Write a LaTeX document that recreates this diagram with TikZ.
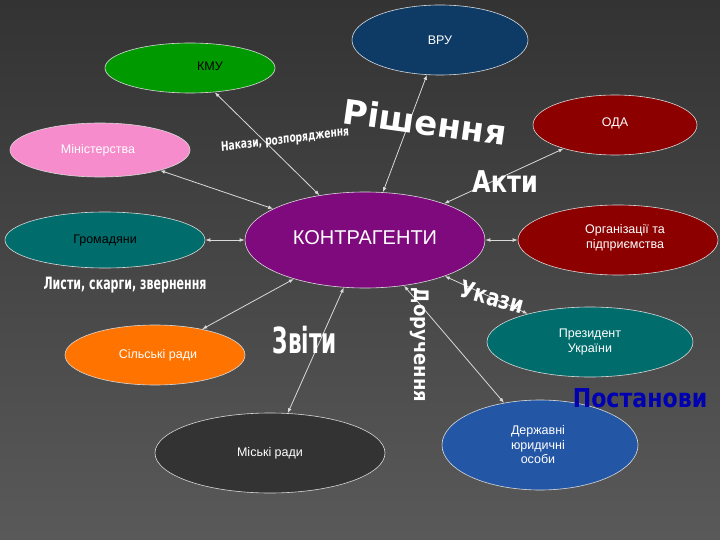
\documentclass[tikz,border=0pt]{standalone}
\usepackage{fontspec}
\setmainfont{Liberation Sans}
\newfontfamily\wa{DejaVu Sans}
\usetikzlibrary{shapes.geometric,arrows.meta}
\definecolor{navy}{HTML}{0E3A66}
\definecolor{djblue}{HTML}{2456A6}
\definecolor{kpurple}{HTML}{7E0A7E}
\begin{document}
\begin{tikzpicture}[x=1pt,y=-1pt,
 el/.style={ellipse,draw=white!85!black,line width=0.6pt,inner sep=0pt},
 lab/.style={font=\fontsize{12.5}{14.5}\selectfont,align=center},
 con/.style={{Latex[length=5pt]}-{Latex[length=5pt]},draw=white!85!black,line width=0.8pt},
 art/.style={font=\wa\bfseries,text=white,inner sep=0pt}]
\useasboundingbox (0,0) rectangle (720,540);
\shade[top color=black!80,bottom color=black!65] (0,0) rectangle (720,540);
\node[el,fill=navy,minimum width=176,minimum height=70] (vru) at (440,40) {};
\node[lab,text=white] at (440,40) {ВРУ};
\node[el,fill=green!60!black,minimum width=170,minimum height=50] (kmu) at (190,68) {};
\node[lab] at (210,66) {КМУ};
\node[el,fill=magenta!45!white,minimum width=180,minimum height=54] (min) at (100,150) {};
\node[lab,text=white] at (98,150) {Міністерства};
\node[el,fill=red!55!black,minimum width=164,minimum height=60] (oda) at (615,125) {};
\node[lab,text=white] at (615,123) {ОДА};
\node[el,fill=kpurple,minimum width=240,minimum height=96] (k) at (365,240) {};
\node[font=\fontsize{20}{24}\selectfont,text=white] at (365,238) {КОНТРАГЕНТИ};
\node[el,fill=teal!85!black,minimum width=200,minimum height=56] (gr) at (105,240) {};
\node[lab] at (105,240) {Громадяни};
\node[el,fill=red!55!black,minimum width=200,minimum height=70] (org) at (618,240) {};
\node[lab,text=white] at (625,238) {Організації та\\підприємства};
\node[el,fill=teal!85!black,minimum width=206,minimum height=70] (pr) at (590,342) {};
\node[lab,text=white] at (590,342) {Президент\\України};
\node[el,fill=orange!90!red,minimum width=180,minimum height=60] (sil) at (155,355) {};
\node[lab,text=white] at (158,355) {Сільські ради};
\node[el,fill=black!80,minimum width=230,minimum height=80] (mis) at (270,453) {};
\node[lab,text=white] at (270,453) {Міські ради};
\node[el,fill=djblue,minimum width=196,minimum height=90] (dj) at (540,445) {};
\node[lab,text=white] at (538,445) {Державні\\юридичні\\особи};
\draw[con] (k) -- (kmu);
\draw[con] (k) -- (vru);
\draw[con] (k) -- (oda);
\draw[con] (k) -- (min);
\draw[con] (k) -- (gr);
\draw[con] (k) -- (org);
\draw[con] (k) -- (pr);
\draw[con] (k) -- (sil);
\draw[con] (k) -- (mis);
\draw[con] (k) -- (dj);
\node[art,font=\wa\bfseries\fontsize{13}{13}\selectfont,xscale=0.7,rotate=5] (n1) at (285,140) {Накази, розпорядження};
\node[art,font=\wa\bfseries\fontsize{34}{34}\selectfont,rotate=-8] (n2) at (425,122) {Рішення};
\node[art,font=\wa\bfseries\fontsize{30}{30}\selectfont,xscale=0.8] (n3) at (505,182) {Акти};
\node[art,font=\wa\bfseries\fontsize{17}{17}\selectfont,xscale=0.65] (n4) at (125,285) {Листи, скарги, звернення};
\node[art,font=\wa\bfseries\fontsize{36}{36}\selectfont,xscale=0.6] (n5) at (305,340) {Звіти};
\node[art,font=\wa\bfseries\fontsize{20}{20}\selectfont,rotate=-90,xscale=0.9] (n6) at (420,345) {Доручення};
\node[art,font=\wa\bfseries\fontsize{24}{24}\selectfont,rotate=-15,xscale=0.8] (n7) at (492,297) {Укази};
\node[art,font=\wa\bfseries\fontsize{26}{26}\selectfont,text=blue!70!black,xscale=0.85] (n8) at (640,398) {Постанови};
\end{tikzpicture}
\end{document}
